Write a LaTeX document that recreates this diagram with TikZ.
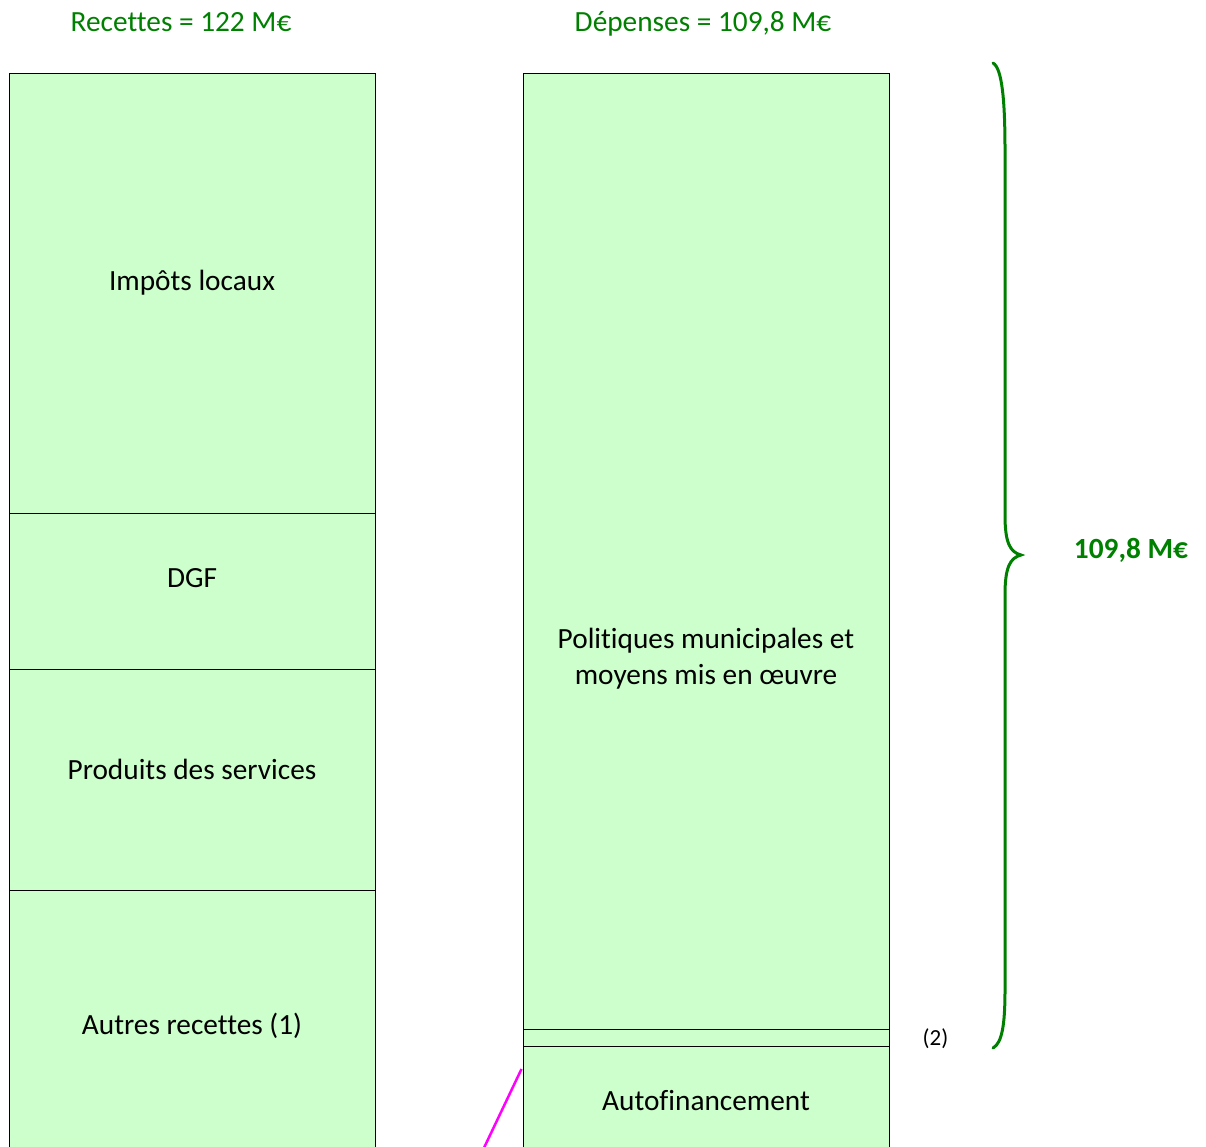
\documentclass[tikz,border=0pt]{standalone}
\usepackage{fontspec}
\setmainfont[Ligatures={NoCommon,NoContextual},Contextuals=NoAlternate]{Carlito}
\definecolor{boxfill}{HTML}{CCFFCC}
\definecolor{titlegreen}{HTML}{008000}
\definecolor{linkmag}{HTML}{FF00FF}
\begin{document}
\begin{tikzpicture}[x=1pt,y=-1pt,
  segbox/.style={draw=black,fill=boxfill,line width=1pt},
  lbl/.style={anchor=base,inner sep=0pt,font=\fontsize{29.3}{36}\selectfont},
  title/.style={lbl,text=titlegreen},
  bracestyle/.style={draw=titlegreen,line width=3pt,line cap=round}]
\useasboundingbox (0,0) rectangle (1206,1146);
\clip (0,0) rectangle (1206,1146);
% titles
\node[title] (trec) at (181,31.5) {Recettes = 122 M€};
\node[title] (tdep) at (703,31.5) {Dépenses = 109,8 M€};
% left column
\path[segbox] (9,73) rectangle (375,513);
\path[segbox] (9,513) rectangle (375,669);
\path[segbox] (9,669) rectangle (375,890);
\path[segbox] (9,890) rectangle (375,1170);
\node[lbl] (imp) at (192,290.5) {Impôts locaux};
\node[lbl] (dgf) at (192,587.5) {DGF};
\node[lbl] (prod) at (192,779.5) {Produits des services};
\node[lbl] (autres) at (192,1034.5) {Autres recettes (1)};
% right column
\path[segbox] (523,73) rectangle (889,1029);
\path[segbox] (523,1029) rectangle (889,1046);
\path[segbox] (523,1046) rectangle (889,1170);
\node[lbl] (pol1) at (706,648.5) {Politiques municipales et};
\node[lbl] (pol2) at (706,684.5) {moyens mis en œuvre};
\node[lbl] (autof) at (706,1110.5) {Autofinancement};
\node[anchor=base,inner sep=0pt,font=\fontsize{23}{27}\selectfont] (note2) at (935.5,1045) {(2)};
% brace
\coordinate (btop) at (993,63);
\coordinate (btip) at (1021,555);
\coordinate (bbot) at (993,1048);
\draw[bracestyle] (btop) .. controls (1002,68) and (1005,100) .. (1005,150)
  -- (1005,515) .. controls (1005,543) and (1010,552) .. (btip)
  .. controls (1010,558) and (1005,567) .. (1005,595)
  -- (1005,990) .. controls (1005,1025) and (1002,1043) .. (bbot);
\node[title,font=\fontsize{29.3}{36}\selectfont\bfseries] (total) at (1131,558.5) {109,8 M€};
% magenta connector
\coordinate (magA) at (521.5,1069);
\coordinate (magB) at (482,1152);
\draw[linkmag,line width=2.5pt] (magA) -- (magB);
\end{tikzpicture}
\end{document}
